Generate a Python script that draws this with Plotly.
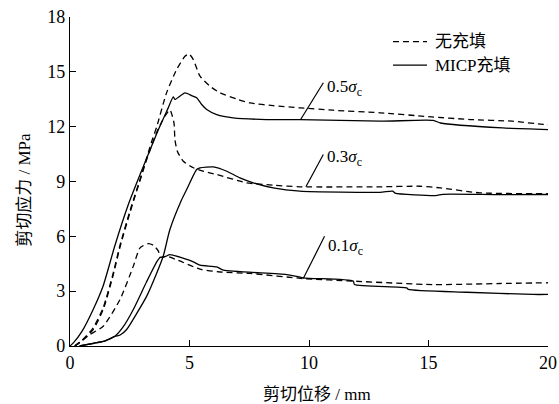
import plotly.graph_objects as go

# ---------------- data ----------------
u05_x = [0.2, 0.5, 0.97, 1.39, 1.81, 2.09, 2.51, 3.0, 3.42, 3.63, 4.04, 4.46, 4.81, 4.98, 5.16, 5.44, 5.86, 6.28, 7.0, 7.53, 8.5, 9.62, 11.0, 12.97, 15.0, 16.74, 18.5, 19.8, 20.0]
u05_y = [0.0, 0.3, 1.0, 2.1, 4.0, 5.5, 7.4, 9.4, 11.2, 12.0, 13.85, 15.12, 15.85, 15.98, 15.67, 14.76, 14.21, 13.85, 13.5, 13.3, 13.15, 13.03, 12.9, 12.76, 12.55, 12.39, 12.3, 12.12, 12.1]

u03_x = [0.2, 0.5, 0.97, 1.39, 1.81, 2.09, 2.51, 3.21, 3.63, 3.97, 4.18, 4.35, 4.39, 4.49, 4.74, 5.16, 5.6, 6.14, 7.39, 8.5, 9.62, 12.97, 14.64, 15.5, 17.15, 19.95, 20.0]
u03_y = [0.0, 0.3, 0.9, 2.0, 3.9, 5.4, 7.3, 10.2, 11.7, 12.57, 12.92, 12.21, 11.3, 10.66, 10.11, 9.75, 9.55, 9.38, 8.93, 8.8, 8.71, 8.71, 8.74, 8.65, 8.38, 8.33, 8.33]

u01_x = [0.2, 0.42, 0.8, 1.39, 2.09, 2.65, 2.93, 3.28, 3.5, 3.7, 3.77, 4.04, 4.5, 5.44, 6.28, 7.53, 9.76, 11.85, 15.2, 18.0, 20.0]
u01_y = [0.0, 0.2, 0.6, 1.08, 2.54, 4.37, 5.37, 5.6, 5.5, 5.19, 4.85, 4.91, 4.7, 4.2, 4.05, 3.97, 3.69, 3.55, 3.36, 3.42, 3.46]

m05_x = [0.0, 0.14, 0.5, 0.97, 1.39, 1.88, 2.43, 3.0, 3.7, 4.1, 4.32, 4.39, 4.81, 5.09, 5.3, 5.51, 5.72, 6.14, 6.83, 8.23, 9.62, 12.97, 15.2, 15.5, 18.1, 20.0]
m05_y = [0.0, 0.17, 0.8, 2.0, 3.3, 5.5, 7.7, 9.6, 11.84, 13.0, 13.63, 13.49, 13.85, 13.7, 13.58, 13.21, 12.94, 12.66, 12.48, 12.39, 12.39, 12.3, 12.34, 12.2, 11.93, 11.84]

m03_x = [0.4, 1.0, 1.5, 1.88, 2.1, 2.37, 2.8, 3.21, 3.6, 3.9, 4.18, 4.67, 4.88, 5.3, 5.44, 6.0, 6.56, 7.11, 7.67, 8.5, 9.62, 12.97, 13.5, 13.6, 15.3, 15.6, 18.0, 20.0]
m03_y = [0.0, 0.15, 0.3, 0.53, 0.6, 0.9, 1.8, 2.73, 3.9, 4.91, 6.37, 8.0, 8.56, 9.66, 9.75, 9.8, 9.56, 9.2, 8.93, 8.65, 8.47, 8.41, 8.47, 8.37, 8.23, 8.3, 8.28, 8.29]

m01_x = [0.4, 1.0, 1.5, 1.88, 2.2, 2.65, 3.2, 3.63, 3.77, 4.0, 4.18, 5.16, 5.44, 6.14, 6.42, 9.07, 9.76, 11.85, 11.9, 14.09, 14.15, 16.6, 19.38, 20.0]
m01_y = [0.0, 0.15, 0.3, 0.53, 1.0, 2.0, 3.5, 4.6, 4.84, 4.9, 5.0, 4.6, 4.42, 4.33, 4.15, 3.91, 3.73, 3.55, 3.37, 3.18, 3.1, 2.94, 2.82, 2.82]

x_ticks = [0, 5, 10, 15, 20]
y_ticks = [0, 3, 6, 9, 12, 15, 18]

legend_names = ["无充填", "MICP充填"]
x_title = "剪切位移 / mm"
y_title = "剪切应力 / MPa"
stress_labels = ["0.5", "0.3", "0.1"]
# leader lines: (x0, y0, x1, y1) in data units, and label anchor
leader_lines = [(9.65, 12.39, 10.6, 14.4), (9.87, 8.71, 10.6, 10.48), (9.76, 3.69, 10.65, 6.0)]
label_pos = [(10.68, 14.14), (10.68, 10.3), (10.72, 5.44)]

SERIF = "Liberation Serif, Noto Sans CJK SC, serif"

fig = go.Figure()
dashed = [(u05_x, u05_y), (u03_x, u03_y), (u01_x, u01_y)]
solid = [(m05_x, m05_y), (m03_x, m03_y), (m01_x, m01_y)]
for xs, ys in dashed:
    fig.add_trace(go.Scatter(x=xs, y=ys, mode="lines", showlegend=False,
                             line=dict(color="black", width=1.3, dash="6px,4px",
                                       shape="spline", smoothing=0.6)))
for xs, ys in solid:
    fig.add_trace(go.Scatter(x=xs, y=ys, mode="lines", showlegend=False,
                             line=dict(color="black", width=1.3,
                                       shape="spline", smoothing=0.6)))

for (x0, y0, x1, y1) in leader_lines:
    fig.add_shape(type="line", x0=x0, y0=y0, x1=x1, y1=y1, xref="x", yref="y",
                  line=dict(color="black", width=1.2))
for lab, (lx, ly) in zip(stress_labels, label_pos):
    fig.add_annotation(x=lx, y=ly, xref="x", yref="y", showarrow=False,
                       text=lab + "<i>σ</i><sub>c</sub>", xanchor="left", yanchor="middle",
                       font=dict(family=SERIF, size=17, color="black"))

# legend (drawn manually)
leg_y = [0.925, 0.854]
leg_dash = ["6px,4px", "solid"]
for name, ly, dsh in zip(legend_names, leg_y, leg_dash):
    fig.add_shape(type="line", x0=0.6757, x1=0.7469, y0=ly, y1=ly, xref="paper", yref="paper",
                  line=dict(color="black", width=1.3, dash=dsh))
    fig.add_annotation(x=0.7594, y=ly, xref="paper", yref="paper", showarrow=False,
                       text=name, xanchor="left", yanchor="middle",
                       font=dict(family=SERIF, size=17, color="black"))

# axis titles
fig.add_annotation(x=0.516, y=-0.147, xref="paper", yref="paper", showarrow=False,
                   text=x_title, xanchor="center", yanchor="middle",
                   font=dict(family=SERIF, size=17, color="black"))
fig.add_annotation(x=-0.094, y=0.475, xref="paper", yref="paper", showarrow=False,
                   text=y_title, textangle=-90, xanchor="center", yanchor="middle",
                   font=dict(family=SERIF, size=17, color="black"))

axis_common = dict(showline=True, linecolor="black", linewidth=1.3, ticks="inside",
                   ticklen=6, tickwidth=1.3, tickcolor="black", showgrid=False, zeroline=False,
                   tickfont=dict(family=SERIF, size=18, color="black"), mirror=False,
                   automargin=False, ticklabeloverflow="allow")

fig.update_layout(
    width=559, height=404, autosize=False,
    margin=dict(l=70, r=11, t=17, b=57.5, pad=0),
    paper_bgcolor="white", plot_bgcolor="white",
    xaxis=dict(range=[0, 20], tickvals=x_ticks, **axis_common),
    yaxis=dict(range=[0, 18], tickvals=y_ticks, **axis_common),
    showlegend=False,
)

fig.write_html("out.html", config={"displayModeBar": False},
               post_script="document.body.style.margin='0';"
                           "document.documentElement.style.overflow='hidden';")
